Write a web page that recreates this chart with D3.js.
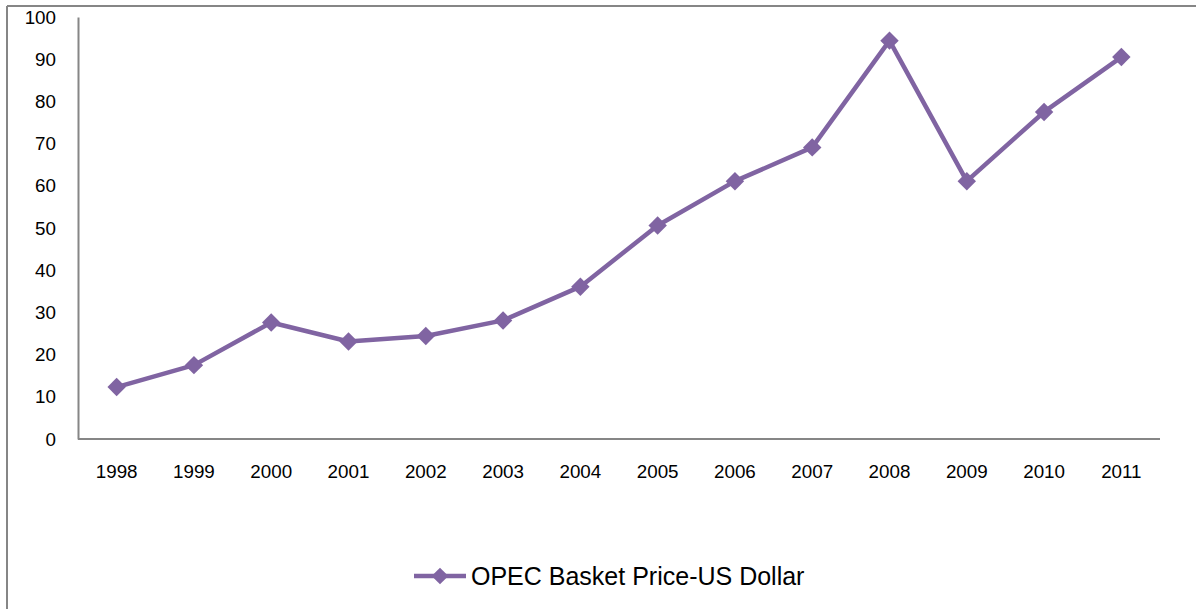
<!DOCTYPE html>
<html><head><meta charset="utf-8">
<script src="https://cdn.jsdelivr.net/npm/d3@7"></script>
<style>body{margin:0;background:#fff}svg{display:block;font-family:Arial,"Liberation Sans",sans-serif}</style>
</head><body><svg id="c" width="1196" height="609"></svg>
<script>
const years = ["1998","1999","2000","2001","2002","2003","2004","2005","2006","2007","2008","2009","2010","2011"];
const prices = [12.3, 17.5, 27.6, 23.1, 24.4, 28.1, 36.1, 50.6, 61.1, 69.1, 94.4, 61.1, 77.5, 90.5];
const yTicks = [0,10,20,30,40,50,60,70,80,90,100];
const seriesName = "OPEC Basket Price-US Dollar";

const svg = d3.select("#c");
const color = "#8064A2", axisColor = "#868686";
const L = 78, R = 1160, T = 17, B = 439;
const x = d3.scaleBand().domain(years).range([L, R]);
const y = d3.scaleLinear().domain([0, 100]).range([B, T]);

// outer chart border (top & left)
svg.append("line").attr("x1",7).attr("x2",1196).attr("y1",6).attr("y2",6).attr("stroke",axisColor).attr("stroke-width",2);
svg.append("line").attr("x1",7).attr("x2",7).attr("y1",6).attr("y2",609).attr("stroke",axisColor).attr("stroke-width",2);

// y axis
const ya = svg.append("g").attr("transform",`translate(${L},0)`).call(d3.axisLeft(y).tickValues(yTicks).tickSize(0).tickPadding(22));
ya.select(".domain").attr("stroke",axisColor).attr("stroke-width",2);
ya.selectAll("text").attr("font-size","18.8px").attr("fill","#000").attr("font-family","Arial, 'Liberation Sans', sans-serif");

// x axis
const xa = svg.append("g").attr("transform",`translate(0,${B})`).call(d3.axisBottom(x).tickSize(0).tickPadding(26));
xa.select(".domain").attr("stroke",axisColor).attr("stroke-width",2).attr("d",`M${L},0H${R}`);
xa.selectAll("text").attr("font-size","18.8px").attr("fill","#000").attr("font-family","Arial, 'Liberation Sans', sans-serif");

const cx = d => x(d) + x.bandwidth()/2;
const data = years.map((yr,i)=>({yr, v: prices[i]}));
svg.append("path").datum(data)
  .attr("fill","none").attr("stroke",color).attr("stroke-width",4.5).attr("stroke-linejoin","round")
  .attr("d", d3.line().x(d=>cx(d.yr)).y(d=>y(d.v)));

const diamond = d3.symbol().type(d3.symbolSquare).size(170);
svg.selectAll(".m").data(data).join("path").attr("class","m")
  .attr("d", diamond)
  .attr("transform", d=>`translate(${cx(d.yr)},${y(d.v)}) rotate(45)`)
  .attr("fill", color);

// legend
const lg = svg.append("g");
lg.append("line").attr("x1",414).attr("x2",466).attr("y1",576).attr("y2",576).attr("stroke",color).attr("stroke-width",4.5);
lg.append("path").attr("d", d3.symbol().type(d3.symbolSquare).size(140)).attr("transform","translate(440,576) rotate(45)").attr("fill",color);
lg.append("text").attr("x",471).attr("y",585).attr("font-size","25px").attr("fill","#000").text(seriesName);
</script></body></html>
